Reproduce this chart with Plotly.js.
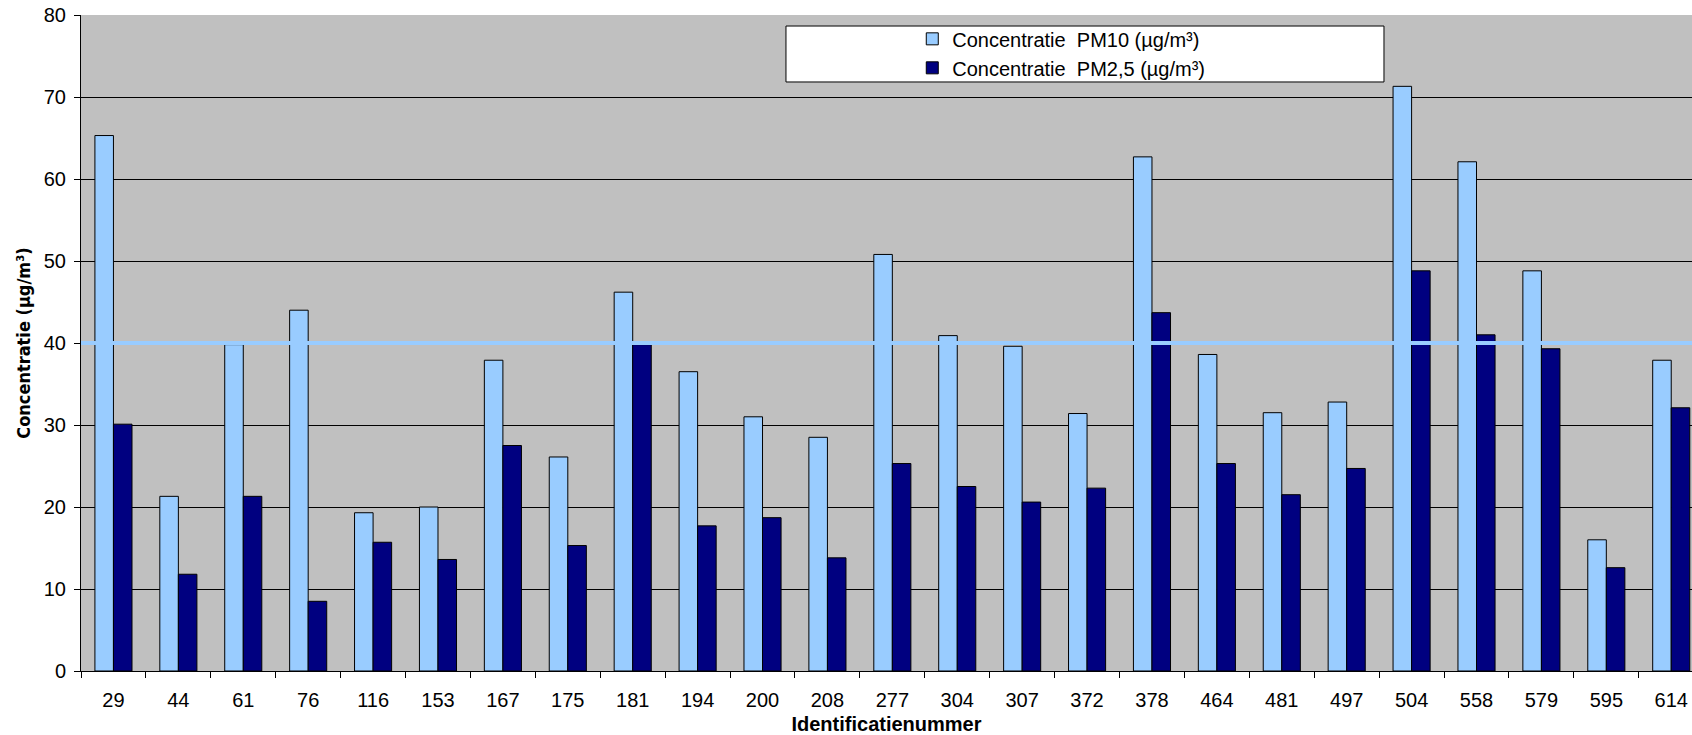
<!DOCTYPE html>
<html>
<head>
<meta charset="utf-8">
<script src="https://cdn.plot.ly/plotly-3.0.1.min.js"></script>
<style>html,body{margin:0;padding:0;background:#fff}#chart{width:1692px;height:735px}</style>
</head>
<body>
<div id="chart"></div>
<script>
const categories = ["29","44","61","76","116","153","167","175","181","194","200","208","277","304","307","372","378","464","481","497","504","558","579","595","614"];
const pm10 = [65.3,21.3,39.8,44.0,19.3,20.0,37.9,26.1,46.2,36.5,31.0,28.5,50.8,40.9,39.6,31.4,62.7,38.6,31.5,32.8,71.3,62.1,48.8,16.0,37.9];
const pm25 = [30.1,11.8,21.3,8.5,15.7,13.6,27.5,15.3,39.8,17.7,18.7,13.8,25.3,22.5,20.6,22.3,43.7,25.3,21.5,24.7,48.8,41.0,39.3,12.6,32.1];
const limitValue = 40;
const seriesNames = ["Concentratie\u00a0\u00a0PM10 (µg/m³)", "Concentratie\u00a0\u00a0PM2,5 (µg/m³)"];
const yTickVals = [0,10,20,30,40,50,60,70,80];

const font = "'Liberation Sans', Arial, sans-serif";
const narrow = "'Liberation Sans Narrow', 'Arial Narrow', 'DejaVu Sans Condensed', 'Liberation Sans', sans-serif";

const traces = [
  {type:'bar', name: seriesNames[0], x: categories, y: pm10,
   marker:{color:'#99CCFF', line:{color:'#000000', width:1}}},
  {type:'bar', name: seriesNames[1], x: categories, y: pm25,
   marker:{color:'#000080', line:{color:'#000000', width:1}}}
];

const layout = {
  width:1692, height:735,
  margin:{l:81, r:0, t:15, b:64},
  paper_bgcolor:'#ffffff',
  plot_bgcolor:'#C0C0C0',
  barmode:'group',
  bargap:0.4286,
  bargroupgap:0,
  showlegend:true,
  font:{family:font, color:'#000', size:18},
  xaxis:{
    type:'category',
    range:[-0.5, 24.32],
    showline:true, linecolor:'#000', linewidth:1,
    ticks:'outside', ticklen:6, tickcolor:'#000', tickson:'boundaries',
    ticklabelstandoff:11,
    showgrid:false,
    tickfont:{family:font, size:20, color:'#000'},
    title:{text:'<b>Identificatienummer</b>', font:{family:font, size:20, color:'#000'}, standoff:12},
    fixedrange:true
  },
  yaxis:{
    range:[0,80],
    tickvals:yTickVals,
    showline:true, linecolor:'#000', linewidth:1,
    ticks:'outside', ticklen:6, tickcolor:'#000',
    ticklabelstandoff:4,
    showgrid:true, gridcolor:'#000', gridwidth:1,
    zeroline:false,
    tickfont:{family:font, size:20, color:'#000'},
    title:{text:'<b>Concentratie (µg/m³)</b>', font:{family:narrow, size:18, color:'#000'}, standoff:8},
    fixedrange:true
  },
  legend:{
    x:0.516, xanchor:'left', y:0.9934, yanchor:'top',
    bgcolor:'rgba(0,0,0,0)', borderwidth:0,
    font:{family:font, size:20, color:'#000'},
    tracegroupgap:0
  },
  shapes:[
    {type:'rect', xref:'paper', yref:'paper', x0:0.4376, x1:0.8088, y0:0.8979, y1:0.9832,
     fillcolor:'#ffffff', line:{color:'#000', width:1}, layer:'above'},
    {type:'line', xref:'paper', yref:'y', x0:0, x1:1, y0:limitValue, y1:limitValue,
     line:{color:'#99CCFF', width:4}, layer:'above'}
  ]
};

Plotly.newPlot('chart', traces, layout, {displayModeBar:false, staticPlot:true});
</script>
</body>
</html>
